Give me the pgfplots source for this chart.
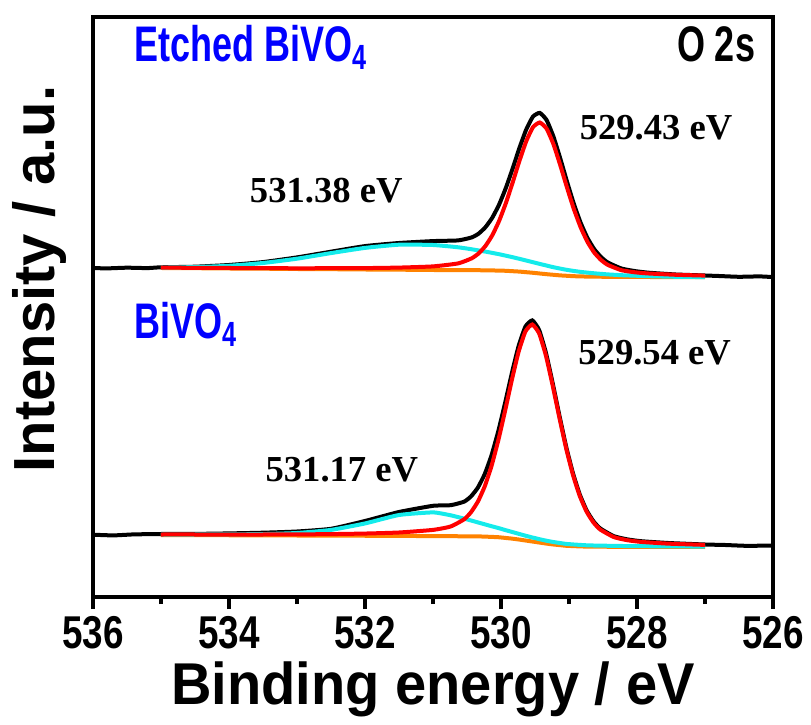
\documentclass[border=0pt]{standalone}
\usepackage{fontspec}
\setmainfont{Liberation Sans}
\newfontfamily\timesfont{Liberation Serif}
\usepackage{pgfplots}
\pgfplotsset{compat=1.18}
\definecolor{fitcyan}{RGB}{20,235,235}
\definecolor{fitorange}{RGB}{255,130,0}
\definecolor{labelblue}{RGB}{0,0,255}

\newcommand{\peaklabel}[1]{{\timesfont\bfseries\fontsize{18.3}{18.3}\selectfont #1}}
\newcommand{\sample}[1]{\scalebox{0.72}[1]{\bfseries\fontsize{25}{25}\selectfont #1}}

\begin{document}
\begin{tikzpicture}
\begin{axis}[
    scale only axis,
    width=340pt, height=290pt,
    xmin=526, xmax=536, x dir=reverse,
    ymin=3, ymax=583,
    xtick={526,528,...,536},
    minor xtick={527,529,...,535},
    xtick pos=left, tick align=outside,
    ytick=\empty,
    major tick length=6pt, minor tick length=3.5pt,
    every tick/.style={black, line width=1.75pt},
    axis line style={line width=1.75pt},
    /pgf/number format/assume math mode=true,
    xticklabel={\scalebox{0.8}[1]{\bfseries\fontsize{23}{23}\selectfont\pgfmathprintnumber{\tick}}},
    xlabel={\scalebox{0.95}[1]{\bfseries\fontsize{29.5}{29.5}\selectfont Binding energy / eV}},
    ylabel={\bfseries\fontsize{29}{29}\selectfont Intensity / a.u.},
    xlabel style={at={(axis description cs:0.5,-0.186)}, anchor=base},
    ylabel style={at={(axis description cs:-0.078,0.548)}, anchor=center},
    clip=false,
]

% etched BiVO4 (upper)
\addplot[black, line width=2pt, smooth, tension=0.3] coordinates {
(536.0,332.0)(535.8,331.6)(535.5,332.3)(535.2,331.9)(535.0,332.7)(534.5,333.3)(534.0,335.0)(533.5,337.9)(533.0,342.6)(532.5,348.3)(532.0,353.9)(531.5,357.0)(531.0,358.9)(530.63,359.6)(530.43,362.6)(530.33,366.3)(530.23,372.7)(530.13,382.1)(530.03,395.1)(529.93,411.8)(529.83,431.2)(529.73,451.8)(529.63,470.3)(529.53,483.4)(529.43,487.1)(529.33,480.0)(529.23,463.6)(529.13,441.9)(529.03,418.5)(528.93,396.4)(528.83,377.4)(528.73,362.2)(528.63,350.9)(528.53,343.0)(528.43,337.5)(528.23,331.5)(528.03,328.9)(527.83,327.3)(527.43,325.5)(527.0,324.5)(526.8,324.0)(526.5,323.2)(526.2,323.6)(526.0,322.9)
};
\addplot[fitorange, line width=2pt, smooth, tension=0.3] coordinates {
(535.0,332.0)(534.5,331.8)(534.0,331.5)(533.5,331.3)(533.0,331.0)(532.5,330.8)(532.0,330.5)(531.5,330.3)(531.0,330.0)(530.63,329.9)(530.43,329.8)(530.23,329.7)(530.03,329.4)(529.93,329.2)(529.83,328.8)(529.73,328.4)(529.63,327.8)(529.53,327.2)(529.43,326.5)(529.33,325.8)(529.23,325.2)(529.13,324.6)(529.03,324.2)(528.93,323.8)(528.83,323.6)(528.73,323.4)(528.63,323.3)(528.43,323.2)(528.23,323.1)(528.03,323.1)(527.83,323.0)(527.43,322.9)(527.0,322.8)
};
\addplot[fitcyan, line width=2pt, smooth, tension=0.3] coordinates {
(535.0,332.4)(534.5,332.9)(534.0,334.2)(533.5,337.0)(533.0,341.3)(532.5,346.9)(532.0,352.1)(531.5,355.3)(531.0,355.0)(530.63,352.7)(530.43,350.7)(530.23,348.4)(530.03,345.8)(529.83,342.8)(529.63,339.5)(529.43,336.1)(529.23,332.8)(529.03,330.1)(528.83,328.1)(528.63,326.7)(528.43,325.6)(528.23,324.8)(528.03,324.3)(527.83,323.8)(527.43,323.2)(527.0,322.9)
};
\addplot[red, line width=2pt, smooth, tension=0.3] coordinates {
(535.0,332.3)(534.5,332.2)(534.0,332.0)(533.5,331.9)(533.0,331.7)(532.5,331.8)(532.0,331.9)(531.5,332.4)(531.0,333.6)(530.63,336.6)(530.43,341.7)(530.33,346.5)(530.23,353.9)(530.13,364.5)(530.03,378.7)(529.93,396.6)(529.83,417.2)(529.73,438.9)(529.63,458.6)(529.53,472.8)(529.43,477.5)(529.33,471.4)(529.23,456.0)(529.13,435.1)(529.03,412.6)(528.93,391.2)(528.83,372.9)(528.73,358.3)(528.63,347.5)(528.53,340.1)(528.43,335.1)(528.23,329.8)(528.03,327.7)(527.83,326.5)(527.43,325.2)(527.0,324.4)
};

% BiVO4 (lower)
\addplot[black, line width=2pt, smooth, tension=0.3] coordinates {
(536.0,65.3)(535.7,64.6)(535.4,65.6)(535.0,66.0)(534.5,66.1)(534.0,66.6)(533.5,67.3)(533.0,68.5)(532.5,71.2)(532.0,79.0)(531.5,88.0)(531.0,94.2)(530.74,94.8)(530.54,98.4)(530.44,103.7)(530.34,112.4)(530.24,125.8)(530.14,144.6)(530.04,168.8)(529.94,197.0)(529.84,226.9)(529.74,254.2)(529.64,273.5)(529.54,279.6)(529.44,270.1)(529.34,247.4)(529.24,216.9)(529.14,184.1)(529.04,152.9)(528.94,126.4)(528.84,105.2)(528.74,89.5)(528.64,78.7)(528.54,71.5)(528.34,63.8)(528.14,60.6)(527.94,58.8)(527.54,57.0)(527.0,55.5)(526.7,55.0)(526.4,54.2)(526.0,54.4)
};
\addplot[fitorange, line width=2pt, smooth, tension=0.3] coordinates {
(535.0,65.0)(534.5,64.9)(534.0,64.75)(533.5,64.6)(533.0,64.5)(532.5,64.4)(532.0,64.25)(531.5,64.1)(531.0,63.9)(530.74,63.8)(530.54,63.7)(530.34,63.6)(530.24,63.4)(530.14,63.1)(530.04,62.8)(529.94,62.1)(529.84,61.4)(529.74,60.5)(529.64,59.5)(529.54,58.5)(529.44,57.5)(529.34,56.5)(529.24,55.6)(529.14,54.9)(529.04,54.2)(528.94,53.9)(528.84,53.6)(528.74,53.4)(528.64,53.3)(528.54,53.3)(528.34,53.2)(528.14,53.15)(527.94,53.1)(527.54,53.05)(527.0,53.0)
};
\addplot[fitcyan, line width=2pt, smooth, tension=0.3] coordinates {
(535.0,65.5)(534.5,65.5)(534.0,65.65)(533.5,65.9)(533.0,67.0)(532.5,70.1)(532.0,76.55)(531.5,85.0)(531.0,87.6)(530.74,84.7)(530.54,81.3)(530.44,79.5)(530.34,77.6)(530.24,75.7)(530.14,73.8)(530.04,72.0)(529.94,70.0)(529.84,68.1)(529.74,66.2)(529.64,64.3)(529.54,62.55)(529.44,60.9)(529.34,59.4)(529.24,58.1)(529.14,57.05)(529.04,56.1)(528.94,55.55)(528.84,55.1)(528.74,54.7)(528.64,54.5)(528.54,54.4)(528.34,54.1)(528.14,53.95)(527.94,53.8)(527.54,53.65)(527.0,53.4)
};
\addplot[red, line width=2pt, smooth, tension=0.3] coordinates {
(535.0,65.5)(534.5,65.5)(534.0,65.45)(533.5,65.5)(533.0,65.6)(532.5,65.9)(532.0,66.45)(531.5,67.5)(531.0,70.1)(530.74,73.5)(530.54,80.8)(530.44,87.9)(530.34,98.4)(530.24,113.5)(530.14,133.9)(530.04,159.6)(529.94,189.1)(529.84,220.2)(529.74,248.5)(529.64,268.7)(529.54,275.5)(529.44,266.7)(529.34,244.5)(529.24,214.4)(529.14,181.9)(529.04,151.0)(528.94,124.7)(528.84,103.7)(528.74,88.2)(528.64,77.5)(528.54,70.4)(528.34,62.9)(528.14,59.75)(527.94,58.1)(527.54,56.35)(527.0,55.1)
};

\node[anchor=base west, text=labelblue] at (axis cs:535.5,538) {\sample{Etched BiVO\textsubscript{4}}};
\node[anchor=base east] at (axis cs:526.16,538) {\sample{O 2s}};
\node[anchor=base west, text=labelblue] at (axis cs:535.5,261) {\sample{BiVO\textsubscript{4}}};
\node[anchor=base] at (axis cs:532.57,397) {\peaklabel{531.38 eV}};
\node[anchor=base] at (axis cs:527.72,460) {\peaklabel{529.43 eV}};
\node[anchor=base] at (axis cs:527.74,235) {\peaklabel{529.54 eV}};
\node[anchor=base] at (axis cs:532.34,118) {\peaklabel{531.17 eV}};
\end{axis}
\path ([xshift=-46.5pt,yshift=-61pt]current axis.south west) rectangle ([xshift=19pt,yshift=8.5pt]current axis.north east);
\end{tikzpicture}
\end{document}
